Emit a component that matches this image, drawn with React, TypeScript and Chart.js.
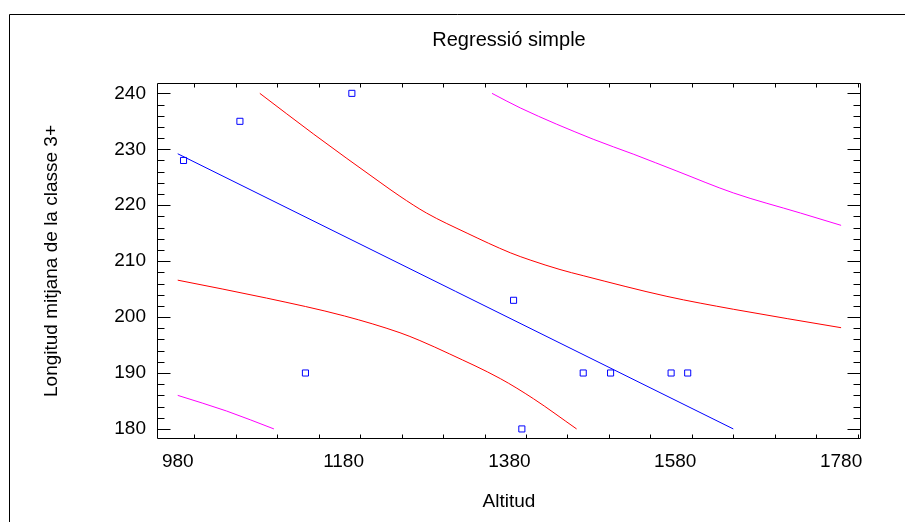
import React, { useEffect, useRef } from 'react';
import { Chart, registerables } from 'chart.js';

Chart.register(...registerables);

// Observed data (Altitud vs Longitud mitjana de la classe 3+)
const obsAltitud = [987, 1055, 1134, 1190, 1385, 1395, 1469, 1502, 1575, 1595];
const obsLongitud = [228, 235, 190, 240, 203, 180, 190, 190, 190, 190];

// Fitted regression line
const fitAltitud = [980, 1650];
const fitLongitud = [229.2, 180.0];

// Confidence limits for the mean (red)
const confUpperAltitud = [1079, 1144, 1224, 1248, 1280, 1329, 1381, 1405, 1441, 1469, 1570, 1650, 1780];
const confUpperLongitud = [240.0, 232.7, 224.1, 221.6, 218.6, 215.0, 211.5, 210.2, 208.5, 207.4, 203.7, 201.4, 198.1];
const confLowerAltitud = [980, 1087, 1181, 1248, 1272, 1308, 1369, 1409, 1461];
const confLowerLongitud = [206.6, 203.4, 200.2, 197.2, 195.8, 193.4, 189.0, 185.4, 180.0];

// Prediction limits (magenta)
const predUpperAltitud = [1359, 1393, 1481, 1530, 1582, 1650, 1731, 1780];
const predUpperLongitud = [240.0, 237.4, 231.8, 229.1, 226.1, 222.2, 218.6, 216.4];
const predLowerAltitud = [980, 1039, 1096];
const predLowerLongitud = [186.0, 183.2, 180.0];

// Axes
const xTickLabels = [980, 1180, 1380, 1580, 1780];
const yTickLabels = [180, 190, 200, 210, 220, 230, 240];
const xMinorStep = 50;
const yMinorStep = 2;
const xMin = 955;
const xMax = 1804;
const yMin = 178.2;
const yMax = 241.85;

const FONT = "'Liberation Sans', Arial, sans-serif";

const toPoints = (xs: number[], ys: number[]) => xs.map((x, i) => ({ x, y: ys[i] }));

const framePlugin = {
  id: 'frame',
  beforeDraw(chart: any) {
    const { ctx, width, height } = chart;
    ctx.save();
    ctx.fillStyle = '#ffffff';
    ctx.fillRect(0, 0, width, height);
    ctx.strokeStyle = '#000000';
    ctx.lineWidth = 1;
    ctx.beginPath();
    ctx.moveTo(9.5, height);
    ctx.lineTo(9.5, 14.5);
    ctx.lineTo(width, 14.5);
    ctx.stroke();
    ctx.restore();
  },
  afterDraw(chart: any) {
    const { ctx, chartArea } = chart;
    const xs = chart.scales.x;
    const ys = chart.scales.y;
    const L = Math.round(chartArea.left) + 0.5;
    const R = Math.round(chartArea.right) - 0.5;
    const T = Math.round(chartArea.top) + 0.5;
    const B = Math.round(chartArea.bottom) - 0.5;
    ctx.save();
    ctx.strokeStyle = '#000000';
    ctx.lineWidth = 1;
    ctx.beginPath();
    ctx.rect(L, T, R - L, B - T);
    // x ticks
    const xMaj = new Set(xTickLabels);
    const xStart = Math.ceil(xMin / xMinorStep) * xMinorStep;
    for (let v = xStart; v <= xMax; v += xMinorStep) {
      const px = Math.round(xs.getPixelForValue(v)) + 0.5;
      const len = xMaj.has(v) ? 7 : 4;
      ctx.moveTo(px, B);
      ctx.lineTo(px, B - len);
      ctx.moveTo(px, T);
      ctx.lineTo(px, T + len);
    }
    // y ticks
    const yMaj = new Set(yTickLabels);
    const yStart = Math.ceil(yMin / yMinorStep) * yMinorStep;
    for (let v = yStart; v <= yMax; v += yMinorStep) {
      const py = Math.round(ys.getPixelForValue(v)) + 0.5;
      const len = yMaj.has(v) ? 13 : 7;
      ctx.moveTo(L, py);
      ctx.lineTo(L + len, py);
      ctx.moveTo(R, py);
      ctx.lineTo(R - len, py);
    }
    ctx.stroke();
    ctx.restore();
  },
};

export default function App() {
  const canvasRef = useRef<HTMLCanvasElement | null>(null);

  useEffect(() => {
    const canvas = canvasRef.current;
    if (!canvas) return;
    Chart.defaults.color = '#000000';
    const lineDs = (label: string, xs: number[], ys: number[], color: string) => ({
      type: 'line' as const,
      label,
      data: toPoints(xs, ys),
      borderColor: color,
      backgroundColor: color,
      borderWidth: 1,
      pointRadius: 0,
      showLine: true,
      fill: false,
      cubicInterpolationMode: 'monotone' as const,
    });
    const chart = new Chart(canvas, {
      type: 'scatter',
      data: {
        datasets: [
          lineDs('Límit de predicció superior', predUpperAltitud, predUpperLongitud, '#ff00ff'),
          lineDs('Límit de predicció inferior', predLowerAltitud, predLowerLongitud, '#ff00ff'),
          lineDs('Límit de confiança superior', confUpperAltitud, confUpperLongitud, '#ff0000'),
          lineDs('Límit de confiança inferior', confLowerAltitud, confLowerLongitud, '#ff0000'),
          lineDs('Model ajustat', fitAltitud, fitLongitud, '#0000ff'),
          {
            type: 'scatter' as const,
            label: 'Observacions',
            data: toPoints(obsAltitud, obsLongitud),
            pointStyle: 'rect',
            pointRadius: 4.3,
            borderWidth: 1,
            borderColor: '#0000ff',
            backgroundColor: 'rgba(0,0,0,0)',
          },
        ],
      },
      options: {
        responsive: false,
        animation: false,
        events: [],
        layout: { padding: { left: 0, right: 44, top: 0, bottom: 0 } },
        plugins: {
          legend: { display: false },
          tooltip: { enabled: false },
          title: {
            display: true,
            text: 'Regressió simple',
            fullSize: false,
            color: '#000000',
            font: { family: FONT, size: 20, weight: 'normal' },
            padding: { top: 28, bottom: 31 },
          },
        },
        scales: {
          x: {
            type: 'linear',
            min: xMin,
            max: xMax,
            grid: { display: false, drawTicks: false },
            border: { display: false },
            afterBuildTicks: (scale: any) => {
              scale.ticks = xTickLabels.map((v) => ({ value: v }));
            },
            afterFit: (scale: any) => {
              scale.height = 83;
            },
            ticks: {
              autoSkip: false,
              maxRotation: 0,
              padding: 11,
              color: '#000000',
              font: { family: FONT, size: 19 },
              callback: (v: any) => String(v),
            },
            title: {
              display: true,
              text: 'Altitud',
              color: '#000000',
              font: { family: FONT, size: 19 },
              padding: { top: 0, bottom: 8.5 },
            },
          },
          y: {
            type: 'linear',
            min: yMin,
            max: yMax,
            grid: { display: false, drawTicks: false },
            border: { display: false },
            afterBuildTicks: (scale: any) => {
              scale.ticks = yTickLabels.map((v) => ({ value: v }));
            },
            afterFit: (scale: any) => {
              scale.width = 157;
            },
            ticks: {
              autoSkip: false,
              padding: 11,
              color: '#000000',
              font: { family: FONT, size: 19 },
              callback: (v: any) => String(v),
            },
            title: {
              display: true,
              text: 'Longitud mitjana de la classe 3+',
              color: '#000000',
              font: { family: FONT, size: 19 },
              padding: { top: 40, bottom: 0 },
            },
          },
        },
      },
      plugins: [framePlugin],
    });
    return () => chart.destroy();
  }, []);

  return (
    <div style={{ position: 'absolute', left: 0, top: 0, width: 905, height: 522 }}>
      <canvas ref={canvasRef} width={905} height={522} style={{ display: 'block' }} />
    </div>
  );
}
